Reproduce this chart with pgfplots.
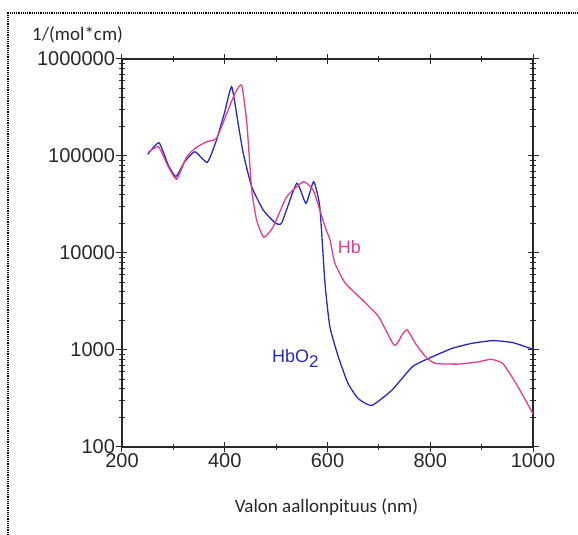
\documentclass[border=0pt]{standalone}
\usepackage{pgfplots}
\pgfplotsset{compat=1.18}
\usepackage{fontspec}
\setmainfont{Liberation Sans}
\newfontfamily\labelfont{Carlito}
\definecolor{hbcol}{RGB}{228,60,145}
\definecolor{hbocol}{RGB}{40,40,190}
\definecolor{axcol}{RGB}{40,40,40}
\begin{document}
\begin{tikzpicture}
\begin{axis}[
  scale only axis,
  width=411pt, height=388pt,
  at={(0,0)}, anchor=south west,
  ymode=log,
  xmin=200, xmax=1000, ymin=100, ymax=1000000,
  xtick={200,400,600,800,1000},
  xticklabels={200,400,600,800,1000},
  minor x tick num=1,
  ytick={100,1000,10000,100000,1000000},
  yticklabels={100,1000,10000,100000,1000000},
  tick align=center,
  major tick length=11pt,
  minor tick length=6pt,
  every tick/.style={axcol, line width=1pt},
  axis line style={axcol, line width=1.2pt},
  ticklabel style={font=\fontsize{20}{24}\selectfont, text=axcol},
  xticklabel style={yshift=2pt},
  yticklabel style={xshift=2pt},
  xlabel={Valon aallonpituus (nm)},
  ylabel={1/(mol*cm)},
  every axis x label/.style={at={(axis description cs:0.4976,-0.1546)},anchor=center,font=\labelfont\fontsize{19}{22}\selectfont,text=axcol},
  every axis y label/.style={at={(axis description cs:-0.108,1.062)},anchor=center,font=\labelfont\fontsize{19}{22}\selectfont,text=axcol},
  clip=true,
]
\addplot[hbocol, line width=1.3pt, smooth, tension=0.3] coordinates {
(250,104000) (272,137000) (290,80700) (305,61200) (322,87300) (342,110700)
(366,86100) (384,146000) (400,286000) (413.5,518000) (426,217000) (436,106600)
(452.5,48200) (475,27700) (498,20500) (511,20500) (540,52300) (558,32500)
(573,54300) (585,30000) (595,4930) (604.5,1746) (621,853) (640,451) (660,315)
(686,268) (725,384) (765,671) (797,819) (843,1042) (882,1173) (922,1250)
(961,1190) (1000,1016)
};
\addplot[hbcol, line width=1.3pt, smooth, tension=0.3] coordinates {
(251,109000) (271,124700) (290,77600) (306.5,57500) (326,98400) (345,123000)
(365,140400) (384,152200) (404,275600) (420,443000) (433,539000) (443,217400)
(452.5,44600) (462,21900) (476,14500) (494.5,18700) (520.6,38000) (553,54300)
(572,44600) (585,27700) (597,17500) (605,13600) (614,7940) (634,4930) (667,3310) (699,2220)
(729,1130) (738,1222) (745,1432) (755,1615) (771,1173) (791,853) (810,727)
(856,716) (895,757) (918,802) (941,727) (967,451) (1000,220)
};
\node[anchor=base west, inner sep=0pt, text=hbcol, font=\fontsize{18}{21}\selectfont] at (axis cs:620,9770) {Hb};
\node[anchor=base west, inner sep=0pt, text=hbocol, font=\fontsize{18}{21}\selectfont] at (axis cs:492,735) {HbO\raisebox{-5pt}{\fontsize{17}{20}\selectfont 2}};
\end{axis}
\draw[black, line width=1.6pt, dash pattern=on 1.2pt off 1pt] (-114pt,-88pt) -- (-114pt,434pt) -- (456pt,434pt);
\pgfresetboundingbox
\path[use as bounding box] (-122pt,-88pt) rectangle (456pt,447pt);
\end{tikzpicture}
\end{document}
